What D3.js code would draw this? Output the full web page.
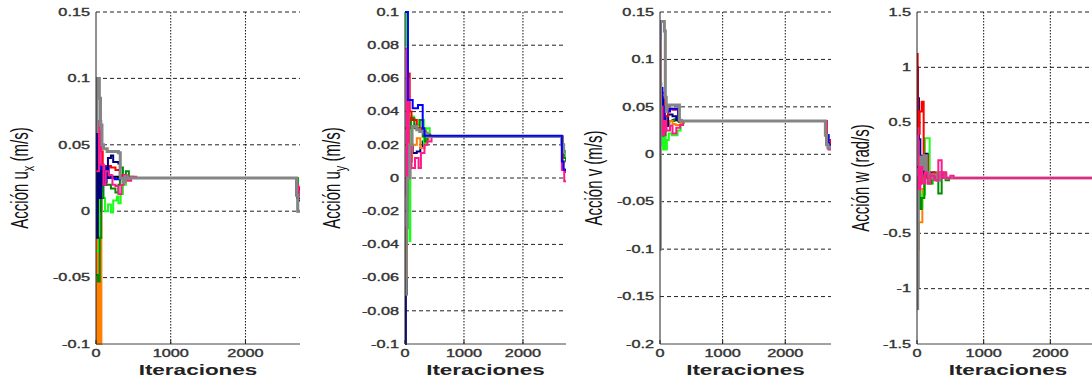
<!DOCTYPE html>
<html><head><meta charset="utf-8">
<script src="https://cdn.jsdelivr.net/npm/d3@7"></script>
<style>
html,body{margin:0;padding:0;background:#fff;}
svg{display:block;font-family:"Liberation Sans",Arial,sans-serif;}
</style></head>
<body><svg id="c" width="1092" height="383"></svg>
<script>
// ---------- shared axis data ----------
const xMax = 2730;
const xTicks = [0, 1000, 2000];
const xLabel = "Iteraciones";

// ---------- panel 1 : u_x ----------
const uxTicks = [-0.1, -0.05, 0, 0.05, 0.1, 0.15];
const uxTickLabels = ["-0.1", "-0.05", "0", "0.05", "0.1", "0.15"];
const ux_orange = [[0,-0.1],[10,0.045],[20,-0.1],[30,0.04],[40,-0.1],[50,0.035],[60,-0.1],[72,0.03],[100,0.025],[2660,0.025],[2690,0.015],[2730,0.013]];
const ux_black = [[0,0.0],[20,0.045],[40,0.0],[70,0.03],[110,0.027],[200,0.026],[300,0.025],[2660,0.025],[2690,0.01],[2730,0.01]];
const ux_green = [[0,-0.03],[40,0.02],[80,0.01],[120,0.0],[160,0.005],[200,-0.001],[230,0.008],[280,0.011],[300,0.006],[330,0.013],[360,0.02],[400,0.024],[450,0.025],[2660,0.025],[2700,0.0],[2730,0.0]];
const ux_darkgreen = [[0,-0.048],[25,-0.053],[50,-0.02],[70,0.01],[100,0.025],[140,0.02],[200,0.017],[260,0.014],[300,0.02],[320,0.033],[360,0.027],[400,0.03],[440,0.026],[500,0.025],[2660,0.025],[2700,0.0],[2730,0.0]];
const ux_red = [[0,0.02],[30,0.06],[60,0.045],[90,0.03],[130,0.034],[200,0.033],[260,0.031],[320,0.027],[380,0.026],[440,0.025],[2660,0.025],[2690,0.018],[2730,0.015]];
const ux_blue = [[0,0.1],[8,0.0],[20,0.055],[40,0.015],[70,0.035],[100,0.022],[140,0.033],[170,0.025],[250,0.024],[320,0.026],[380,0.025],[2660,0.025],[2690,0.015],[2730,0.012]];
const ux_navy = [[0,0.1],[10,-0.02],[25,0.045],[45,0.01],[70,0.03],[100,0.02],[130,0.025],[160,0.04],[200,0.042],[230,0.037],[300,0.036],[320,0.026],[360,0.025],[2660,0.025],[2680,0.012],[2705,0.008],[2730,0.008]];
const ux_pink = [[0,0.03],[40,0.068],[70,0.035],[100,0.02],[130,0.03],[170,0.027],[220,0.02],[260,0.019],[300,0.013],[340,0.02],[370,0.027],[420,0.023],[470,0.026],[540,0.025],[2660,0.025],[2685,0.02],[2705,0.015],[2730,0.01]];
const ux_gray = [[0,0.06],[15,0.1],[45,0.085],[60,0.065],[80,0.05],[100,0.047],[150,0.045],[300,0.044],[325,0.025],[360,0.022],[390,0.026],[420,0.025],[2655,0.025],[2685,0.012],[2700,0.0],[2730,0.0]];

// ---------- panel 2 : u_y ----------
const uyTicks = [-0.1, -0.08, -0.06, -0.04, -0.02, 0, 0.02, 0.04, 0.06, 0.08, 0.1];
const uyTickLabels = ["-0.1", "-0.08", "-0.06", "-0.04", "-0.02", "0", "0.02", "0.04", "0.06", "0.08", "0.1"];
const uy_navy = [[0,-0.1],[15,-0.07],[30,0.0],[60,0.01],[90,0.02],[130,0.015],[200,0.016],[260,0.018],[300,0.022],[350,0.025],[2640,0.025],[2660,0.02],[2690,0.012],[2730,0.01]];
const uy_orange = [[0,-0.06],[30,0.0],[60,0.01],[120,0.02],[200,0.024],[260,0.018],[330,0.023],[400,0.025],[2640,0.025],[2670,0.01],[2730,0.01]];
const uy_green = [[0,0.1],[20,0.08],[40,-0.02],[60,0.04],[75,-0.038],[90,0.037],[150,0.032],[240,0.035],[320,0.02],[360,0.03],[420,0.025],[2640,0.025],[2670,0.015],[2730,0.012]];
const uy_darkgreen = [[0,0.0],[60,0.03],[100,0.036],[160,0.03],[250,0.035],[300,0.025],[340,0.022],[380,0.026],[430,0.025],[2640,0.025],[2670,0.012],[2730,0.01]];
const uy_red = [[0,0.03],[40,0.063],[80,0.04],[110,0.035],[200,0.03],[280,0.028],[350,0.026],[420,0.025],[2640,0.025],[2670,0.005],[2730,0.003]];
const uy_pink = [[0,0.078],[25,-0.01],[45,0.06],[65,0.0],[90,0.02],[110,0.006],[170,0.012],[230,0.006],[270,0.015],[330,0.02],[380,0.022],[450,0.025],[2640,0.025],[2660,0.005],[2700,-0.002],[2730,-0.002]];
const uy_gray = [[0,-0.07],[20,-0.03],[40,0.0],[80,0.02],[120,0.031],[200,0.029],[250,0.028],[320,0.027],[380,0.025],[2640,0.025],[2660,0.02],[2690,0.016],[2730,0.015]];
const uy_blue = [[0,0.1],[50,0.047],[130,0.042],[220,0.044],[300,0.03],[330,0.0255],[2640,0.0255],[2660,0.01],[2690,0.005],[2730,0.005]];

// ---------- panel 3 : v ----------
const vTicks = [-0.2, -0.15, -0.1, -0.05, 0, 0.05, 0.1, 0.15];
const vTickLabels = ["-0.2", "-0.15", "-0.1", "-0.05", "0", "0.05", "0.1", "0.15"];
const v_black = [[0,0.03],[30,0.06],[60,0.025],[100,0.035],[200,0.036],[300,0.035],[2625,0.035],[2660,0.012],[2730,0.01]];
const v_green = [[0,0.13],[10,0.01],[30,0.02],[50,0.005],[70,0.018],[90,0.005],[110,0.015],[140,0.022],[190,0.02],[280,0.025],[330,0.033],[380,0.035],[2625,0.035],[2660,0.01],[2730,0.008]];
const v_darkgreen = [[0,0.075],[20,0.03],[50,0.02],[90,0.03],[150,0.035],[230,0.037],[300,0.034],[350,0.035],[2625,0.035],[2660,0.012],[2730,0.01]];
const v_orange = [[0,0.05],[40,0.045],[80,0.03],[140,0.035],[200,0.032],[250,0.031],[330,0.034],[380,0.035],[2625,0.035],[2660,0.015],[2730,0.01]];
const v_navy = [[0,0.035],[30,0.02],[60,0.04],[90,0.03],[130,0.042],[200,0.04],[260,0.037],[300,0.035],[2625,0.035],[2650,0.02],[2690,0.012],[2730,0.01]];
const v_red = [[0,0.06],[40,0.065],[80,0.04],[130,0.048],[200,0.047],[290,0.035],[2625,0.035],[2660,0.015],[2730,0.01]];
const v_blue = [[0,0.14],[15,0.07],[40,0.03],[70,0.05],[100,0.045],[160,0.048],[290,0.036],[330,0.035],[2625,0.035],[2650,0.02],[2690,0.01],[2730,0.01]];
const v_pink = [[0,0.12],[15,0.05],[40,0.02],[70,0.035],[100,0.025],[160,0.03],[200,0.022],[260,0.028],[320,0.031],[370,0.035],[2625,0.035],[2660,0.01],[2690,0.005],[2730,0.005]];
const v_gray = [[0,-0.1],[5,0.14],[70,0.13],[85,0.06],[100,0.045],[110,0.052],[310,0.036],[340,0.035],[2625,0.035],[2640,0.02],[2660,0.01],[2680,0.007],[2730,0.007]];

// ---------- panel 4 : w ----------
const wTicks = [-1.5, -1, -0.5, 0, 0.5, 1, 1.5];
const wTickLabels = ["-1.5", "-1", "-0.5", "0", "0.5", "1", "1.5"];
const w_black = [[0,0.1],[30,-0.05],[60,0.15],[100,0.02],[150,0.0],[2730,0.0]];
const w_orange = [[0,-0.05],[12,-0.65],[30,-0.4],[80,-0.1],[110,0.05],[150,0.0],[2730,0.0]];
const w_green = [[0,0.0],[40,-0.27],[80,-0.15],[120,0.36],[190,-0.05],[240,0.05],[300,0.0],[350,0.03],[400,0.0],[2730,0.0]];
const w_darkgreen = [[0,-0.1],[40,-0.28],[70,-0.18],[110,0.05],[160,-0.05],[220,0.02],[320,-0.14],[370,0.05],[430,-0.02],[480,0.0],[2730,0.0]];
const w_navy = [[0,1.0],[15,0.72],[30,0.35],[50,0.1],[70,0.2],[100,0.05],[130,0.22],[160,0.0],[200,0.05],[260,0.0],[2730,0.0]];
const w_red = [[0,1.12],[10,0.4],[40,0.6],[70,0.69],[100,0.1],[130,0.2],[160,0.05],[200,0.0],[240,0.05],[280,0.0],[2730,0.0]];
const w_gray = [[0,-1.18],[10,-0.98],[20,0.0],[40,0.19],[80,0.08],[110,0.2],[140,0.05],[180,0.0],[230,0.03],[300,-0.02],[340,0.05],[380,0.02],[430,0.0],[2730,0.0]];
const w_pink = [[0,0.45],[20,-0.1],[50,0.1],[80,-0.05],[120,0.05],[160,-0.05],[200,0.02],[260,-0.02],[320,0.16],[370,0.0],[400,0.05],[440,0.0],[500,0.02],[550,0.0],[2730,0.0]];

// ---------- colours ----------
const colors = {
  black:"#000000", blue:"#0000ff", navy:"#00007f", red:"#ff0000", pink:"#ff1a8c",
  green:"#1aff1a", darkgreen:"#008c00", orange:"#ff8000", gray:"#858585"
};

const panels = [
  { range:[96,300], domain:[-0.1,0.15], ticks:uxTicks, tickLabels:uxTickLabels,
    label:["Acción u","x"," (m/s)"], labelX:21,
    series:[["orange",ux_orange],["black",ux_black],["green",ux_green],["darkgreen",ux_darkgreen],["red",ux_red],["blue",ux_blue],["navy",ux_navy],["pink",ux_pink],["gray",ux_gray]] },
  { range:[405,566], domain:[-0.1,0.1], ticks:uyTicks, tickLabels:uyTickLabels,
    label:["Acción u","y"," (m/s)"], labelX:333,
    series:[["navy",uy_navy],["orange",uy_orange],["green",uy_green],["darkgreen",uy_darkgreen],["red",uy_red],["pink",uy_pink],["gray",uy_gray],["blue",uy_blue]] },
  { range:[660,831], domain:[-0.2,0.15], ticks:vTicks, tickLabels:vTickLabels,
    label:["Acción v (m/s)"], labelX:595,
    series:[["black",v_black],["green",v_green],["darkgreen",v_darkgreen],["orange",v_orange],["navy",v_navy],["red",v_red],["blue",v_blue],["pink",v_pink],["gray",v_gray]] },
  { range:[917,1099], domain:[-1.5,1.5], ticks:wTicks, tickLabels:wTickLabels,
    label:["Acción w (rad/s)"], labelX:862,
    series:[["black",w_black],["orange",w_orange],["green",w_green],["darkgreen",w_darkgreen],["navy",w_navy],["red",w_red],["gray",w_gray],["pink",w_pink]] }
];

const plotTop = 12, plotBottom = 344;
const SX = 1.55;
const svg = d3.select("#c");

panels.forEach((p, i) => {
  const x = d3.scaleLinear().domain([0, xMax]).range(p.range);
  const y = d3.scaleLinear().domain(p.domain).range([plotBottom, plotTop]);
  const g = svg.append("g");

  const cid = "clip" + i;
  svg.append("defs").append("clipPath").attr("id", cid)
    .append("rect").attr("x", p.range[0]).attr("y", plotTop - 1)
    .attr("width", p.range[1] - p.range[0]).attr("height", plotBottom - plotTop + 2);

  g.selectAll(".hg").data(p.ticks.filter(t => t !== p.domain[0])).enter().append("line")
    .attr("x1", p.range[0]).attr("x2", p.range[1])
    .attr("y1", d => y(d)).attr("y2", d => y(d))
    .attr("stroke", "#222").attr("stroke-width", 1).attr("stroke-dasharray", "4,3");
  g.selectAll(".vg").data(xTicks.filter(t => t > 0)).enter().append("line")
    .attr("x1", d => x(d)).attr("x2", d => x(d))
    .attr("y1", plotTop).attr("y2", plotBottom)
    .attr("stroke", "#111").attr("stroke-width", 1).attr("stroke-dasharray", "1.5,1.5");

  const line = d3.line().x(d => x(d[0])).y(d => y(d[1])).curve(d3.curveStepAfter);
  const lg = g.append("g").attr("clip-path", `url(#${cid})`);
  p.series.forEach(([c, data]) => {
    lg.append("path").datum(data).attr("d", line)
      .attr("fill", "none").attr("stroke", colors[c])
      .attr("stroke-width", c === "gray" ? 3 : 2);
  });

  g.append("line").attr("x1", p.range[0]).attr("x2", p.range[0]).attr("y1", plotTop).attr("y2", plotBottom)
    .attr("stroke", "#222").attr("stroke-width", 1);
  g.append("line").attr("x1", p.range[0]).attr("x2", p.range[1]).attr("y1", plotBottom).attr("y2", plotBottom)
    .attr("stroke", "#444").attr("stroke-width", 1);
  g.selectAll(".xt").data(xTicks).enter().append("line")
    .attr("x1", d => x(d)).attr("x2", d => x(d)).attr("y1", plotBottom).attr("y2", plotBottom - 4)
    .attr("stroke", "#222");

  g.selectAll(".yl").data(p.ticks).enter().append("text")
    .attr("transform", d => `translate(${p.range[0] - 6},${y(d)}) scale(${SX},1)`)
    .attr("dy", "0.36em").attr("text-anchor", "end")
    .attr("font-size", 10.5).attr("fill", "#333").attr("stroke", "#333").attr("stroke-width", 0.35)
    .text((d, j) => p.tickLabels[j]);
  g.selectAll(".xl").data(xTicks).enter().append("text")
    .attr("transform", d => `translate(${x(d)},357) scale(${SX},1)`)
    .attr("text-anchor", "middle").attr("font-size", 10.5).attr("fill", "#333").attr("stroke", "#333").attr("stroke-width", 0.35)
    .text(d => String(d));
  g.append("text")
    .attr("transform", `translate(${(p.range[0] + p.range[1]) / 2},375) scale(1.5,1)`)
    .attr("text-anchor", "middle").attr("font-size", 15).attr("font-weight", "bold").attr("fill", "#222")
    .text(xLabel);
  const yl = g.append("text")
    .attr("transform", `translate(${p.labelX + 7},${(plotTop + plotBottom) / 2}) scale(1.55,1) rotate(-90)`)
    .attr("text-anchor", "middle").attr("font-size", 15).attr("fill", "#111");
  if (p.label.length === 3) {
    yl.append("tspan").text(p.label[0]);
    yl.append("tspan").attr("dy", 4).attr("font-size", 11).text(p.label[1]);
    yl.append("tspan").attr("dy", -4).text(p.label[2]);
  } else {
    yl.text(p.label[0]);
  }
});
</script>
</body></html>
